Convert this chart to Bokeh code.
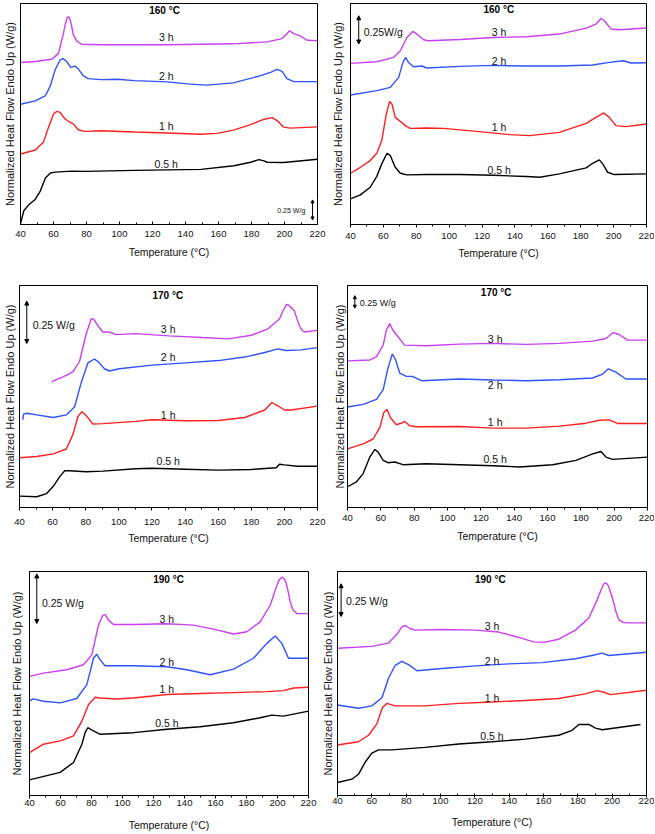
from bokeh.plotting import figure
from bokeh.layouts import column, row
from bokeh.models import Range1d, FixedTicker, Label, Arrow, NormalHead
from bokeh.embed import file_html
from bokeh.resources import INLINE

# ---------------- data (x: temperature in degC, y: heat flow, arbitrary offset units) -------------
x_ticks = [40, 60, 80, 100, 120, 140, 160, 180, 200, 220]
x_minor = [50, 70, 90, 110, 130, 150, 170, 190, 210]
series_names = ["0.5 h", "1 h", "2 h", "3 h"]
series_colors = ["#000000", "#ff1f1f", "#2f52ff", "#cc3ef2"]

# Panel A: 160 degC (left)
A_05_x = [40, 42.0, 45.0, 49.0, 52.0, 55.1, 58.1, 61.1, 71.1, 79.1, 109.2, 149.4, 169.4, 179.5, 184.5, 187.5, 189.5, 199.5, 220]
A_05_y = [0.7, 14, 20, 25.7, 34, 47.3, 52.3, 53.3, 54.3, 54, 55, 56, 59.7, 63.3, 66, 64.7, 63.3, 63, 66.3]
A_1_x = [40, 49, 54, 57, 60, 62, 64, 67, 70, 72, 75, 79, 89, 109, 129, 149, 159, 169, 179, 187, 192.5, 195.5, 199.5, 203.5, 220]
A_1_y = [71.7, 75.7, 84, 99, 112.3, 115, 114, 107.3, 104, 102.3, 96.3, 94.7, 95.3, 94, 93, 91.7, 92.7, 96, 101.3, 106.7, 108.7, 105.7, 99, 98, 99.3]
A_2_x = [40, 49, 55, 58, 61, 64, 65.7, 68, 70.5, 73, 75, 78, 81, 89, 99, 109, 129, 141, 153, 169, 185.5, 191.5, 195.5, 198.5, 201.5, 205.6, 220]
A_2_y = [122.3, 125.7, 130.7, 140.7, 157.3, 167.3, 168.7, 165.7, 159.7, 161, 158.3, 151.3, 148.3, 147.3, 147.7, 146.3, 145, 143, 141.7, 144, 151.3, 154.7, 157.7, 155.7, 148.3, 145.3, 145.3]
A_3_x = [40, 49, 59, 63, 66, 67.2, 68.2, 69, 69.8, 70.8, 72, 74, 77, 89, 129, 169, 189.5, 198.5, 201.5, 203, 205.6, 209.6, 213.6, 220]
A_3_y = [164.7, 165.7, 168, 174, 194, 204, 210, 211.3, 209.5, 203.5, 193, 186.7, 183.3, 182.7, 182.7, 183.7, 185.7, 189, 194, 197, 194, 191.7, 187.3, 187]

# Panel B: 160 degC (right)
B_05_x = [40, 46, 52, 56, 59, 62.2, 64.2, 67.2, 70.3, 74.3, 86.4, 106.6, 126.8, 147, 155, 167, 183.3, 187.3, 191.3, 193.4, 196.4, 200.4, 220]
B_05_y = [25.7, 29.7, 37.3, 48.3, 60.7, 71.3, 69, 57.3, 51.3, 49.7, 50, 50, 49.3, 48, 47.3, 50.7, 56.7, 61.3, 64.7, 60.7, 52.3, 50, 50.7]
B_1_x = [40, 46, 52, 56, 59, 61.8, 63.8, 65.2, 67.2, 70.3, 73.3, 76.3, 86.4, 96.5, 116.7, 136.9, 149, 167, 183.3, 189.3, 194, 197.4, 201.4, 207.5, 220]
B_1_y = [51.3, 57.3, 64, 71.3, 84, 110.7, 123.3, 120.7, 107.3, 103.3, 99, 96.3, 96.7, 96.3, 93.3, 90, 89, 92.3, 101.3, 107.3, 111.7, 107.3, 99, 98, 100.7]
B_2_x = [40, 56, 64.2, 69.3, 71.9, 73.5, 75.3, 78.3, 83.4, 86.4, 106.6, 126.8, 147, 167, 187.3, 197.4, 206, 210.5, 220]
B_2_y = [129.7, 134, 137.3, 147.3, 162.3, 167.3, 162.3, 158, 158.7, 156.7, 158.3, 159.3, 158.7, 158.7, 159.7, 162.3, 164, 161.7, 162]
B_3_x = [40, 56, 66.2, 70.3, 74.3, 77.9, 80.4, 84.4, 87.4, 106.6, 126.8, 147, 167, 183.3, 189.3, 192.3, 194.4, 198.4, 203.4, 220]
B_3_y = [161.3, 163, 167.3, 174, 187.3, 193.3, 190.7, 185, 184, 185.3, 187.3, 188, 190.7, 196.7, 200.7, 206.3, 204, 195.7, 195, 196.7]

# Panel C: 170 degC (left)
C_05_x = [40, 50.4, 56.4, 60.4, 64.3, 67.3, 70.3, 80.3, 90.3, 110.2, 120.2, 140.2, 160.1, 180.1, 195.1, 197, 200, 208, 220]
C_05_y = [11.7, 11, 14.3, 21.7, 31.7, 37.7, 37.7, 36.7, 37.3, 39.7, 40.3, 39.3, 38.3, 39, 40.7, 44.3, 43.7, 42.3, 42.3]
C_1_x = [40, 50.4, 60.4, 68.3, 72.3, 75.3, 77.7, 80.3, 84.3, 90.3, 110.2, 120.2, 140.2, 160.1, 176.1, 188.1, 192.5, 197, 200, 204, 220]
C_1_y = [51, 52.3, 55, 60, 75, 93.3, 98.3, 94.3, 85.7, 86, 88.3, 90, 89, 89.3, 92.3, 100, 107.7, 103.3, 100, 100, 104]
C_2_x = [42, 42.5, 44.4, 50.4, 60.4, 68.3, 73.3, 77.3, 81.3, 85.3, 88.3, 91.3, 94.3, 100.3, 120.2, 140.2, 160.1, 176.1, 188.1, 196, 201, 210, 220]
C_2_y = [90, 95.7, 96.7, 95, 92.3, 95, 103.3, 128.3, 148.3, 152.3, 148.3, 142.3, 140, 142.3, 146, 148.3, 150.7, 154.3, 159, 162.7, 161, 161.7, 164]
C_3_x = [59.4, 66.3, 72.3, 76.3, 80.3, 83.3, 84.7, 87.3, 90.3, 94.3, 98.3, 110.2, 130.2, 150.2, 166.1, 180.1, 190.1, 197, 199, 201, 202, 203, 204.5, 206, 207.5, 209, 210.5, 212, 220]
C_3_y = [129, 134, 139, 150, 178.3, 193.3, 193.3, 186.7, 180, 180, 177.3, 178.3, 176, 174.3, 173, 176.7, 183.3, 193.3, 201, 207.7, 208.2, 206.7, 204.5, 201.7, 194, 186.7, 182, 180, 181.7]

# Panel D: 170 degC (right)
D_05_x = [40, 45.4, 49.4, 53.4, 56.4, 58.4, 61.4, 64.3, 68.3, 73.3, 87.3, 107.3, 127.2, 143.2, 163.1, 177.1, 187.1, 192.1, 195.1, 199, 220]
D_05_y = [21, 26, 34.3, 51, 58.7, 56, 47.7, 45.3, 46, 43.3, 44.3, 43.3, 42.3, 41, 43.3, 47.7, 54.3, 56.7, 51, 48.7, 51]
D_1_x = [40, 49.4, 55.4, 59.4, 61.8, 63.7, 65.7, 69.3, 72.3, 74.3, 77.3, 81.3, 107.3, 127.2, 147.2, 167.1, 183.1, 191.1, 197, 202, 220]
D_1_y = [59.3, 64.3, 69.3, 81, 96, 99.3, 91, 83.7, 85.3, 87, 82.7, 81.7, 82, 80.3, 80.3, 82.3, 85.3, 88.3, 88.7, 85, 85]
D_2_x = [40, 49.4, 57.4, 61.4, 64.3, 66.9, 68.9, 71.3, 75.3, 78.9, 84.3, 107.3, 127.2, 147.2, 167.1, 187.1, 193.1, 196.5, 201, 207, 220]
D_2_y = [101.7, 104.3, 109.3, 119.3, 141, 155.3, 149.3, 136, 132.7, 132.7, 128.3, 130, 129, 128.3, 129.3, 131, 135, 140.3, 137, 130, 130]
D_3_x = [40, 53.4, 57.4, 61.4, 63.3, 65.3, 67.3, 70.3, 74.3, 87.3, 107.3, 127.2, 147.2, 167.1, 187.1, 195.1, 199.4, 203, 208, 220]
D_3_y = [148.3, 149.3, 152.7, 164.3, 179.3, 186, 179.3, 172.7, 164.3, 163.7, 165.3, 166, 165, 166, 168.3, 171, 177, 175, 169.3, 169.3]

# Panel E: 190 degC (left)
E_05_x = [40, 59.8, 68.4, 73.8, 75.9, 77.6, 81.3, 85.6, 107.1, 128.6, 150.1, 171.6, 188.8, 196.3, 203.9, 220]
E_05_y = [15.7, 23.3, 33.3, 51.7, 63.3, 68.3, 65, 61.7, 63.3, 66.7, 69.3, 73.3, 78.3, 81, 80, 85]
E_1_x = [40, 49, 59.8, 68.4, 73.8, 78.1, 82.4, 85.6, 96.3, 107.1, 128.6, 150.1, 171.6, 193.1, 203.9, 210.3, 220]
E_1_y = [43.3, 51.7, 55, 60, 75, 91.7, 99, 98.3, 97.3, 98.3, 101.7, 102.7, 103.7, 104.7, 105.7, 108.3, 109]
E_2_x = [40, 42.6, 49, 59.8, 70.5, 77, 81.3, 83.4, 85.6, 88.8, 107.1, 128.6, 141.5, 156.6, 171.6, 184.5, 193.1, 198.5, 202.8, 207.1, 220]
E_2_y = [95.7, 97.3, 95, 93.3, 97.7, 111.7, 138.3, 142.3, 136.7, 130.7, 130.7, 129.7, 126.7, 121.7, 127.3, 138.3, 153.3, 160.7, 153.3, 138.3, 138.3]
E_3_x = [40, 49, 64.1, 74.8, 80.2, 84.5, 87.3, 88.8, 91, 94.2, 107.1, 128.6, 145.8, 158.7, 171.6, 180.2, 188.8, 195.3, 199.6, 201.2, 202.8, 204.2, 205.4, 206.8, 208.2, 210, 212.5, 220]
E_3_y = [120, 123.3, 126.7, 131.7, 141.7, 171.7, 181.7, 182.3, 176.7, 172.3, 172.3, 173, 171.7, 167.7, 162.7, 165, 175, 191.7, 211.7, 217.5, 220, 218.5, 215, 206, 195, 187, 183.3, 183.3]

# Panel F: 190 degC (right)
F_05_x = [40, 48.4, 52.2, 56.1, 60, 63.9, 71.7, 91.1, 110.6, 130, 149.4, 168.9, 176.7, 180.6, 186.4, 190.3, 194.2, 216.5]
F_05_y = [13.3, 16.7, 21.7, 34, 43.3, 46.7, 46.7, 49.3, 52.7, 55, 57.7, 61.7, 66.7, 72.7, 72.7, 69, 67.3, 72.7]
F_1_x = [40, 52.2, 58.1, 62.9, 66.2, 68.8, 73.6, 91.1, 110.6, 130, 149.4, 168.9, 184.4, 191.2, 195.1, 199, 220]
F_1_y = [51.7, 55, 61.7, 73.3, 90, 94.3, 91.7, 91.7, 94.3, 95.7, 97.3, 99.3, 104, 107.3, 105.7, 103.3, 107.7]
F_2_x = [40, 52.2, 60, 65.9, 69.7, 73.6, 77.5, 81.4, 86.3, 100.8, 120.3, 139.7, 159.2, 178.6, 188.3, 194.2, 198, 220]
F_2_y = [92.7, 89.3, 91.7, 100, 120, 133.3, 137.3, 134, 127.7, 130, 132.7, 134.7, 136, 140, 143.3, 145.7, 143.3, 146.7]
F_3_x = [40, 60, 69.7, 74.6, 77.5, 79.5, 82.4, 85.3, 100.8, 120.3, 133.9, 144.6, 154.3, 160.3, 168.9, 178.6, 186.4, 191.2, 193.2, 195.1, 196.4, 197.7, 199.3, 201, 202.4, 203.9, 206, 208.7, 220]
F_3_y = [150.7, 152.7, 156, 165, 172.7, 174, 170.7, 169.3, 170, 169.3, 167.3, 162.3, 157.3, 156.7, 160, 169.3, 181.7, 200, 209, 216.7, 217.5, 215, 207, 196.7, 187, 180, 177.3, 176.7, 176.7]

panel_titles = ["160 \u00b0C", "160 \u00b0C", "170 \u00b0C", "170 \u00b0C", "190 \u00b0C", "190 \u00b0C"]
scale_texts = ["0.25 W/g", "0.25W/g", "0.25 W/g", "0.25 W/g", "0.25 W/g", "0.25 W/g"]

FONT = "Liberation Sans"
YLABEL = "Normalized Heat Flow Endo Up (W/g)"
XLABEL = "Temperature (\u00b0C)"


def make_panel(curves, title, title_xy, label_pos, scale, layout):
    (w, h, bl, br, bt, bb, ymax, t_in, t_out, m_in, m_out, lab_so, xal_so, yal_so) = layout
    p = figure(width=w, height=h, x_range=Range1d(40, 220), y_range=Range1d(0, ymax),
               output_backend="svg", toolbar_location=None,
               min_border_left=bl, min_border_right=br, min_border_top=bt, min_border_bottom=bb,
               background_fill_color="white", border_fill_color="white")
    p.grid.visible = False
    p.outline_line_color = "black"
    p.outline_line_width = 1
    p.outline_line_alpha = 1

    xa = p.xaxis[0]
    xa.ticker = FixedTicker(ticks=x_ticks, minor_ticks=x_minor)
    xa.axis_label = XLABEL
    xa.axis_label_text_font = FONT
    xa.axis_label_text_font_style = "normal"
    xa.axis_label_text_font_size = "10.5px"
    xa.axis_label_text_color = "#111111"
    xa.axis_label_standoff = xal_so
    xa.major_label_text_font = FONT
    xa.major_label_text_font_size = "9.5px"
    xa.major_label_text_color = "#111111"
    xa.major_label_standoff = lab_so
    xa.major_tick_in = t_in
    xa.major_tick_out = t_out
    xa.minor_tick_in = m_in
    xa.minor_tick_out = m_out
    xa.axis_line_color = "black"
    xa.major_tick_line_color = "black"
    xa.minor_tick_line_color = "black"

    ya = p.yaxis[0]
    ya.ticker = FixedTicker(ticks=[])
    ya.major_label_text_font_size = "0px"
    ya.major_label_standoff = 0
    ya.major_tick_in = 0
    ya.major_tick_out = 0
    ya.minor_tick_in = 0
    ya.minor_tick_out = 0
    ya.axis_label = YLABEL
    ya.axis_label_text_font = FONT
    ya.axis_label_text_font_style = "normal"
    ya.axis_label_text_font_size = "11px"
    ya.axis_label_text_color = "#111111"
    ya.axis_label_standoff = yal_so
    ya.axis_line_color = "black"

    for (xs, ys), color in zip(curves, series_colors):
        p.line(xs, ys, line_color=color, line_width=1.4)

    p.add_layout(Label(x=title_xy[0], y=title_xy[1], text=title, text_align="center",
                       text_baseline="middle", text_font=FONT, text_font_style="bold",
                       text_font_size="10px", text_color="black"))
    for name, (lx, ly) in zip(series_names, label_pos):
        p.add_layout(Label(x=lx, y=ly, text=name, text_align="center", text_baseline="middle",
                           text_font=FONT, text_font_size="10.5px", text_color="#111111"))

    ax, ay0, ay1, tx, ty, talign, tsize, stext, hs = scale
    p.add_layout(Arrow(x_start=ax, y_start=ay0, x_end=ax, y_end=ay1, line_width=1,
                       line_color="black",
                       start=NormalHead(size=hs, fill_color="black", line_color="black"),
                       end=NormalHead(size=hs, fill_color="black", line_color="black")))
    p.add_layout(Label(x=tx, y=ty, text=stext, text_align=talign, text_baseline="middle",
                       text_font=FONT, text_font_size=tsize, text_color="#111111"))
    return p


# layout tuple: (width, height, border L, R, T, B, y max, major in, major out,
#                minor in, minor out, tick-label standoff, x title standoff, y title standoff)
pA = make_panel([(A_05_x, A_05_y), (A_1_x, A_1_y), (A_2_x, A_2_y), (A_3_x, A_3_y)],
                panel_titles[0], (127.3, 217.3),
                [(128.3, 61.7), (128.3, 99.7), (128.3, 151.3), (128.3, 190.7)],
                (217, 4.7, 25, 212.6, 14, "right", "7px", scale_texts[0], 3),
                (328, 275, 18, 11, 3, 48, 224.7, 3, 0, 2, 0, 6, 6, 5))
pB = make_panel([(B_05_x, B_05_y), (B_1_x, B_1_y), (B_2_x, B_2_y), (B_3_x, B_3_y)],
                panel_titles[1], (130.2, 215.7),
                [(130.4, 54.7), (130.4, 97.3), (130.4, 163.3), (130.4, 192.3)],
                (45, 180.7, 209, 48, 192.3, "left", "10.5px", scale_texts[1], 4),
                (326, 275, 20, 8, 3, 51, 221.3, 0, 3, 0, 2, 5, 5, 7))
pC = make_panel([(C_05_x, C_05_y), (C_1_x, C_1_y), (C_2_x, C_2_y), (C_3_x, C_3_y)],
                panel_titles[2], (129.6, 217.7),
                [(129.8, 47.3), (129.8, 95), (129.8, 154), (129.8, 183.3)],
                (44.4, 168.3, 211.7, 48, 186.7, "left", "10.5px", scale_texts[2], 4),
                (330, 280, 16, 13, 4, 48, 227.7, 0, 3, 0, 2, 8, 4, 4))
pD = make_panel([(D_05_x, D_05_y), (D_1_x, D_1_y), (D_2_x, D_2_y), (D_3_x, D_3_y)],
                panel_titles[3], (129.2, 217.7),
                [(128.6, 49.3), (128.6, 86), (128.6, 124.3), (128.6, 170)],
                (44.4, 201.7, 214.3, 47.4, 206.7, "left", "9px", scale_texts[3], 3),
                (324, 280, 16, 7, 10, 46, 224.6, 0, 3, 0, 2, 4, 6, 2))
pE = make_panel([(E_05_x, E_05_y), (E_1_x, E_1_y), (E_2_x, E_2_y), (E_3_x, E_3_y)],
                panel_titles[4], (129.7, 217.7),
                [(128.6, 73.3), (128.6, 107.3), (128.6, 134.3), (128.6, 178.3)],
                (44.7, 173.3, 223.3, 48, 194.3, "left", "10.5px", scale_texts[4], 4),
                (318, 278, 29, 10, 16, 36, 225.7, 0, 3, 0, 2, 1, 10, 7))
pF = make_panel([(F_05_x, F_05_y), (F_1_x, F_1_y), (F_2_x, F_2_y), (F_3_x, F_3_y)],
                panel_titles[5], (129, 220.7),
                [(130, 60.7), (130, 100), (130, 137.3), (130, 173.3)],
                (42.1, 183.3, 216.7, 44.9, 199.3, "left", "10.5px", scale_texts[5], 4),
                (336, 278, 19, 8, 14, 35, 229.3, 2, 2, 2, 0, 0, 9, 4))

layout = column(row(pA, pB), row(pC, pD), row(pE, pF))
open("out.html", "w").write(file_html(layout, INLINE))
